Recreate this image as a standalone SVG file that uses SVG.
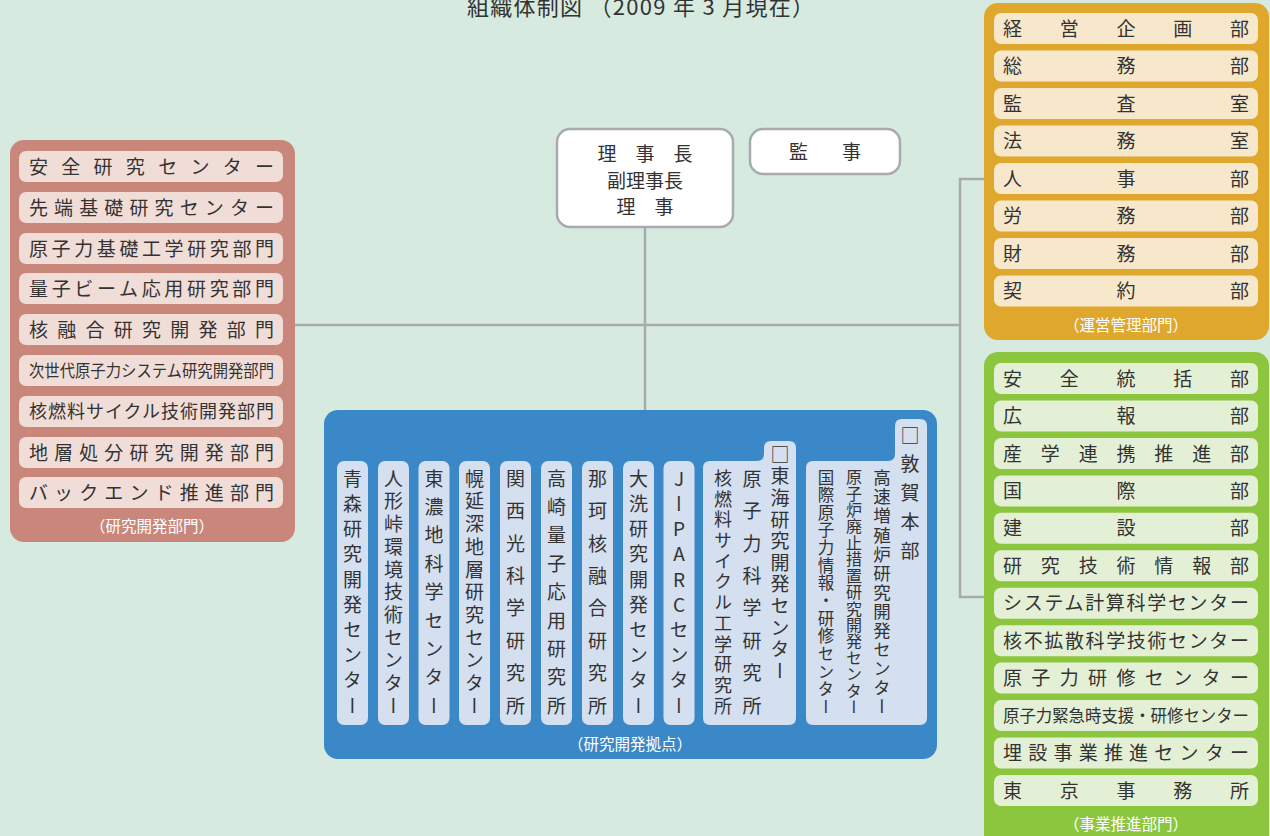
<svg xmlns="http://www.w3.org/2000/svg" width="1270" height="836" viewBox="0 0 1270 836">
<style>
text{font-family:"Noto Sans CJK JP","Noto Sans CJK SC",sans-serif;fill:#333;}
.h{font-size:19px;}
.hs{font-size:16.5px;}
.hm{font-size:18px;}
.lab{font-size:15.5px;fill:#fff;text-anchor:middle;}
.v{font-size:19px;writing-mode:vertical-rl;text-orientation:upright;}
.top{fill:#fff;stroke:#a9aaae;stroke-width:2.5;}
.conn{fill:none;stroke:#a9aaae;stroke-width:2.5;}
.pk{fill:#f1ddd7;}
.or{fill:#f8e8cb;}
.gr{fill:#e4f0d5;}
.bl{fill:#d4dff0;}
.c{text-anchor:middle;}
</style>
<rect x="0" y="0" width="1270" height="836" fill="#d7eadf"/>
<text x="467" y="15" font-size="22" fill="#2a2a2a" textLength="347" lengthAdjust="spacing">組織体制図 （2009 年 3 月現在）</text>

<g id="connectors">
<line class="conn" x1="645" y1="227" x2="645" y2="410"/>
<line class="conn" x1="295" y1="325" x2="960" y2="325"/>
<polyline class="conn" points="985,179 960,179 960,597 985,597"/>
</g>

<g id="executives">
<rect class="top" x="557" y="129" width="176" height="98" rx="13"/>
<text class="h c" x="645" y="161">理　事　長</text>
<text class="h c" x="645" y="188">副理事長</text>
<text class="h c" x="645" y="214">理　事</text>
</g>
<g id="auditor">
<rect class="top" x="750" y="129" width="150" height="45" rx="13"/>
<text class="h" x="789" y="159" textLength="72" lengthAdjust="spacing">監　事</text>
</g>

<g id="research-departments">
<rect x="10" y="140" width="285" height="402" rx="14" fill="#c9877b"/>
<rect class="pk" x="19" y="151" width="264" height="31" rx="7"/>
<text class="h" x="29" y="173.5" textLength="245" lengthAdjust="spacing">安全研究センター</text>
<rect class="pk" x="19" y="192" width="264" height="31" rx="7"/>
<text class="h" x="29" y="214.5" textLength="245" lengthAdjust="spacing">先端基礎研究センター</text>
<rect class="pk" x="19" y="233" width="264" height="31" rx="7"/>
<text class="h" x="29" y="255.5" textLength="245" lengthAdjust="spacing">原子力基礎工学研究部門</text>
<rect class="pk" x="19" y="273" width="264" height="31" rx="7"/>
<text class="h" x="29" y="295.5" textLength="245" lengthAdjust="spacing">量子ビーム応用研究部門</text>
<rect class="pk" x="19" y="314" width="264" height="31" rx="7"/>
<text class="h" x="29" y="336.5" textLength="245" lengthAdjust="spacing">核融合研究開発部門</text>
<rect class="pk" x="19" y="355" width="264" height="31" rx="7"/>
<text class="hs" x="29" y="376.5" textLength="245" lengthAdjust="spacingAndGlyphs">次世代原子力システム研究開発部門</text>
<rect class="pk" x="19" y="396" width="264" height="31" rx="7"/>
<text class="hm" x="29" y="418" textLength="245" lengthAdjust="spacing">核燃料サイクル技術開発部門</text>
<rect class="pk" x="19" y="437" width="264" height="31" rx="7"/>
<text class="h" x="29" y="459.5" textLength="245" lengthAdjust="spacing">地層処分研究開発部門</text>
<rect class="pk" x="19" y="477" width="264" height="31" rx="7"/>
<text class="h" x="29" y="499.5" textLength="245" lengthAdjust="spacing">バックエンド推進部門</text>
<text class="lab" x="152" y="532">（研究開発部門）</text>
</g>

<g id="management-departments">
<rect x="984" y="3" width="285" height="337" rx="14" fill="#dfa82d"/>
<rect class="or" x="994" y="13" width="264" height="31" rx="7"/>
<text class="h" x="1003" y="35.5" textLength="246" lengthAdjust="spacing">経営企画部</text>
<rect class="or" x="994" y="50.5" width="264" height="31" rx="7"/>
<text class="h" x="1003" y="73" textLength="246" lengthAdjust="spacing">総務部</text>
<rect class="or" x="994" y="88" width="264" height="31" rx="7"/>
<text class="h" x="1003" y="110.5" textLength="246" lengthAdjust="spacing">監査室</text>
<rect class="or" x="994" y="125.5" width="264" height="31" rx="7"/>
<text class="h" x="1003" y="148" textLength="246" lengthAdjust="spacing">法務室</text>
<rect class="or" x="994" y="163" width="264" height="31" rx="7"/>
<text class="h" x="1003" y="185.5" textLength="246" lengthAdjust="spacing">人事部</text>
<rect class="or" x="994" y="200.5" width="264" height="31" rx="7"/>
<text class="h" x="1003" y="223" textLength="246" lengthAdjust="spacing">労務部</text>
<rect class="or" x="994" y="238" width="264" height="31" rx="7"/>
<text class="h" x="1003" y="260.5" textLength="246" lengthAdjust="spacing">財務部</text>
<rect class="or" x="994" y="275.5" width="264" height="31" rx="7"/>
<text class="h" x="1003" y="298" textLength="246" lengthAdjust="spacing">契約部</text>
<text class="lab" x="1126" y="331">（運営管理部門）</text>
</g>

<g id="business-departments">
<rect x="984" y="352" width="285" height="500" rx="14" fill="#8cc63f"/>
<rect class="gr" x="994" y="363" width="264" height="31" rx="7"/>
<text class="h" x="1003" y="385.5" textLength="246" lengthAdjust="spacing">安全統括部</text>
<rect class="gr" x="994" y="400.5" width="264" height="31" rx="7"/>
<text class="h" x="1003" y="423" textLength="246" lengthAdjust="spacing">広報部</text>
<rect class="gr" x="994" y="438" width="264" height="31" rx="7"/>
<text class="h" x="1003" y="460.5" textLength="246" lengthAdjust="spacing">産学連携推進部</text>
<rect class="gr" x="994" y="475.4" width="264" height="31" rx="7"/>
<text class="h" x="1003" y="497.9" textLength="246" lengthAdjust="spacing">国際部</text>
<rect class="gr" x="994" y="512.8" width="264" height="31" rx="7"/>
<text class="h" x="1003" y="535.3" textLength="246" lengthAdjust="spacing">建設部</text>
<rect class="gr" x="994" y="550.3" width="264" height="31" rx="7"/>
<text class="h" x="1003" y="572.8" textLength="246" lengthAdjust="spacing">研究技術情報部</text>
<rect class="gr" x="994" y="587.7" width="264" height="31" rx="7"/>
<text class="h" x="1003" y="610.2" textLength="246" lengthAdjust="spacing">システム計算科学センター</text>
<rect class="gr" x="994" y="625.2" width="264" height="31" rx="7"/>
<text class="h" x="1003" y="647.7" textLength="246" lengthAdjust="spacing">核不拡散科学技術センター</text>
<rect class="gr" x="994" y="662.6" width="264" height="31" rx="7"/>
<text class="h" x="1003" y="685.1" textLength="246" lengthAdjust="spacing">原子力研修センター</text>
<rect class="gr" x="994" y="700.1" width="264" height="31" rx="7"/>
<text style="font-size:17px" x="1003" y="722" textLength="246" lengthAdjust="spacingAndGlyphs">原子力緊急時支援・研修センター</text>
<rect class="gr" x="994" y="737.5" width="264" height="31" rx="7"/>
<text class="h" x="1003" y="760" textLength="246" lengthAdjust="spacing">埋設事業推進センター</text>
<rect class="gr" x="994" y="775" width="264" height="31" rx="7"/>
<text class="h" x="1003" y="797.5" textLength="246" lengthAdjust="spacing">東京事務所</text>
<text class="lab" x="1126" y="830">（事業推進部門）</text>
</g>

<g id="research-bases">
<rect x="324" y="410" width="613" height="349" rx="14" fill="#3a88c8"/>
<text class="lab" x="630" y="750">（研究開発拠点）</text>
</g>
<g id="aomori"><rect class="bl" x="337" y="461" width="31" height="264" rx="7"/>
<text class="v" x="352.5" y="469" textLength="246" lengthAdjust="spacing">青森研究開発センター</text></g>
<g id="ningyotoge"><rect class="bl" x="378" y="461" width="31" height="264" rx="7"/>
<text class="v" x="393.5" y="469" textLength="246" lengthAdjust="spacing">人形峠環境技術センター</text></g>
<g id="tono"><rect class="bl" x="418.5" y="461" width="31" height="264" rx="7"/>
<text class="v" x="434" y="469" textLength="246" lengthAdjust="spacing">東濃地科学センター</text></g>
<g id="horonobe"><rect class="bl" x="459" y="461" width="31" height="264" rx="7"/>
<text class="v" x="474.5" y="469" textLength="246" lengthAdjust="spacing">幌延深地層研究センター</text></g>
<g id="kansai"><rect class="bl" x="500" y="461" width="31" height="264" rx="7"/>
<text class="v" x="515.5" y="469" textLength="246" lengthAdjust="spacing">関西光科学研究所</text></g>
<g id="takasaki"><rect class="bl" x="541" y="461" width="31" height="264" rx="7"/>
<text class="v" x="556.5" y="469" textLength="246" lengthAdjust="spacing">高崎量子応用研究所</text></g>
<g id="naka"><rect class="bl" x="582" y="461" width="31" height="264" rx="7"/>
<text class="v" x="597.5" y="469" textLength="246" lengthAdjust="spacing">那珂核融合研究所</text></g>
<g id="oarai"><rect class="bl" x="623" y="461" width="31" height="264" rx="7"/>
<text class="v" x="638.5" y="469" textLength="246" lengthAdjust="spacing">大洗研究開発センター</text></g>
<g id="jparc"><rect class="bl" x="663.5" y="461" width="31" height="264" rx="7"/>
<text class="v" x="679" y="469" textLength="246" lengthAdjust="spacing">JーPARCセンター</text></g>
<g id="tokai">
<path class="bl" d="M703,468 Q703,461 710,461 L757,461 Q764,461 764,454 L764,448 Q764,441 771,441 L789,441 Q796,441 796,448 L796,718 Q796,725 789,725 L710,725 Q703,725 703,718 Z"/>
<text class="v" x="780" y="445" textLength="235" lengthAdjust="spacing">□東海研究開発センター</text>
<text class="v" x="752" y="469" textLength="246" lengthAdjust="spacing">原子力科学研究所</text>
<text class="v" style="font-size:18px" x="723" y="469" textLength="246" lengthAdjust="spacing">核燃料サイクル工学研究所</text>
</g>
<g id="tsuruga">
<path class="bl" d="M806,468 Q806,461 813,461 L888,461 Q895,461 895,454 L895,426 Q895,419 902,419 L920,419 Q927,419 927,426 L927,718 Q927,725 920,725 L813,725 Q806,725 806,718 Z"/>
<text class="v" x="910" y="426" textLength="134" lengthAdjust="spacing">□敦賀本部</text>
<text class="v" style="font-size:17.5px" x="882" y="469" textLength="246" lengthAdjust="spacing">高速増殖炉研究開発センター</text>
<text class="v" style="font-size:16px" x="854" y="469" textLength="246" lengthAdjust="spacing">原子炉廃止措置研究開発センター</text>
<text class="v" style="font-size:16.5px" x="826" y="469" textLength="246" lengthAdjust="spacing">国際原子力情報・研修センター</text>
</g>
</svg>
